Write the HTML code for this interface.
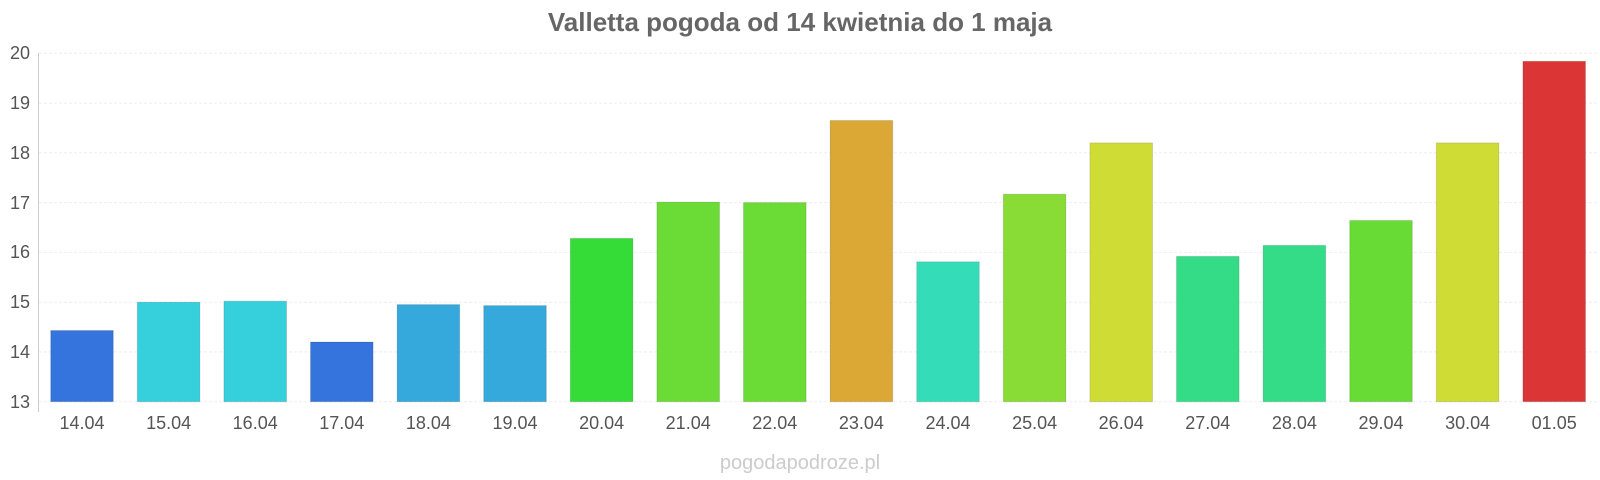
<!DOCTYPE html>
<html><head><meta charset="utf-8"><style>
html,body{margin:0;padding:0;background:#fff}
svg{display:block}
text{font-family:"Liberation Sans",Arial,sans-serif}
</style></head><body>
<svg width="1600" height="480" xmlns="http://www.w3.org/2000/svg">
<text x="800" y="31" text-anchor="middle" font-size="26" font-weight="bold" fill="#666">Valletta pogoda od 14 kwietnia do 1 maja</text>
<g stroke="#eee" stroke-width="1" stroke-dasharray="3,2">
<line x1="39" x2="1597" y1="53.3" y2="53.3"/>
<line x1="39" x2="1597" y1="103.1" y2="103.1"/>
<line x1="39" x2="1597" y1="152.8" y2="152.8"/>
<line x1="39" x2="1597" y1="202.6" y2="202.6"/>
<line x1="39" x2="1597" y1="252.4" y2="252.4"/>
<line x1="39" x2="1597" y1="302.2" y2="302.2"/>
<line x1="39" x2="1597" y1="351.9" y2="351.9"/>
<line x1="39" x2="1597" y1="401.7" y2="401.7"/>
</g>
<line x1="38.5" x2="38.5" y1="53" y2="412" stroke="#ccc"/>
<g font-size="18" fill="#555" text-anchor="end">
<text x="30" y="59">20</text><text x="30" y="109">19</text><text x="30" y="159">18</text><text x="30" y="209">17</text>
<text x="30" y="258">16</text><text x="30" y="308">15</text><text x="30" y="358">14</text><text x="30" y="408">13</text>
</g>
<g stroke="rgba(0,0,0,0.12)" stroke-width="1">
<rect x="50.7" y="330.5" width="62.6" height="71.2" fill="#3474dc"/>
<rect x="137.3" y="302.2" width="62.6" height="99.5" fill="#36cfdc"/>
<rect x="223.9" y="301.2" width="62.6" height="100.5" fill="#36cfdc"/>
<rect x="310.5" y="342.0" width="62.6" height="59.7" fill="#3474dc"/>
<rect x="397.1" y="304.6" width="62.6" height="97.1" fill="#35a8dc"/>
<rect x="483.7" y="305.6" width="62.6" height="96.1" fill="#35a8dc"/>
<rect x="570.3" y="238.4" width="62.6" height="163.3" fill="#35dc37"/>
<rect x="656.9" y="202.1" width="62.6" height="199.6" fill="#6bdc35"/>
<rect x="743.5" y="202.6" width="62.6" height="199.1" fill="#6bdc35"/>
<rect x="830.1" y="120.5" width="62.6" height="281.2" fill="#dba835"/>
<rect x="916.7" y="261.8" width="62.6" height="139.9" fill="#35dcb8"/>
<rect x="1003.3" y="194.2" width="62.6" height="207.5" fill="#89dc35"/>
<rect x="1089.9" y="142.9" width="62.6" height="258.8" fill="#cfdc35"/>
<rect x="1176.5" y="256.4" width="62.6" height="145.3" fill="#35dc88"/>
<rect x="1263.1" y="245.4" width="62.6" height="156.3" fill="#35dc88"/>
<rect x="1349.7" y="220.5" width="62.6" height="181.2" fill="#68dc35"/>
<rect x="1436.3" y="142.9" width="62.6" height="258.8" fill="#cfdc35"/>
<rect x="1522.9" y="61.3" width="62.6" height="340.4" fill="#dc3535"/>
</g>
<g font-size="18" fill="#555" text-anchor="middle">
<text x="82" y="429">14.04</text>
<text x="168.6" y="429">15.04</text>
<text x="255.2" y="429">16.04</text>
<text x="341.8" y="429">17.04</text>
<text x="428.4" y="429">18.04</text>
<text x="515" y="429">19.04</text>
<text x="601.6" y="429">20.04</text>
<text x="688.2" y="429">21.04</text>
<text x="774.8" y="429">22.04</text>
<text x="861.4" y="429">23.04</text>
<text x="948" y="429">24.04</text>
<text x="1034.6" y="429">25.04</text>
<text x="1121.2" y="429">26.04</text>
<text x="1207.8" y="429">27.04</text>
<text x="1294.4" y="429">28.04</text>
<text x="1381" y="429">29.04</text>
<text x="1467.6" y="429">30.04</text>
<text x="1554.2" y="429">01.05</text>
</g>
<text x="800" y="469" text-anchor="middle" font-size="20" fill="#ccc">pogodapodroze.pl</text>
</svg>
</body></html>
